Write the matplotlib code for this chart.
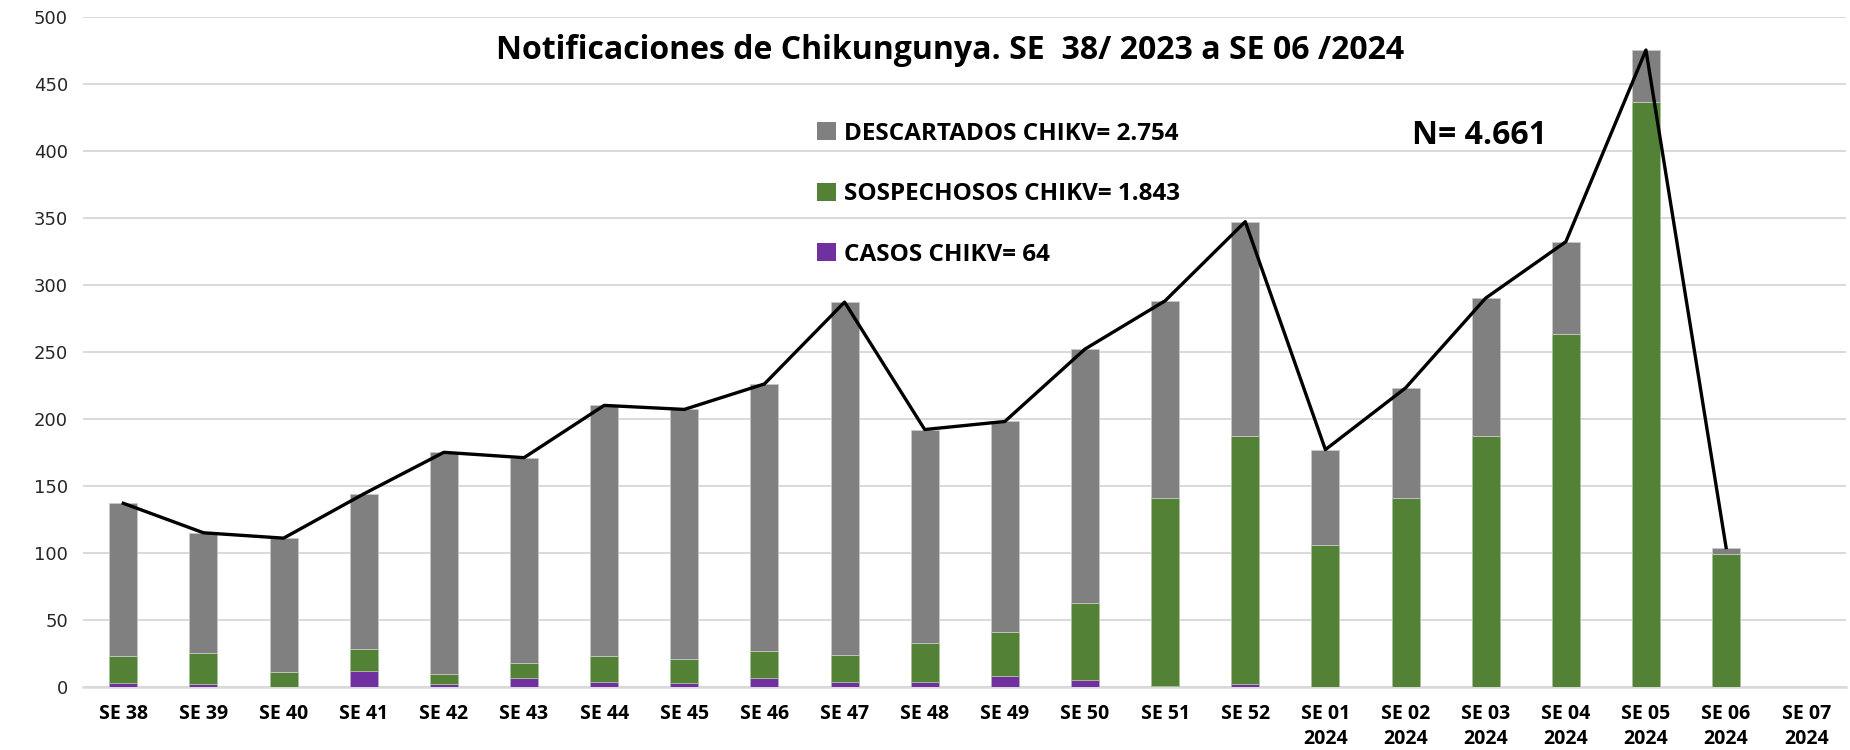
import matplotlib
matplotlib.use("Agg")
import matplotlib.pyplot as plt
from matplotlib import font_manager as fm
from matplotlib.patches import Patch
import numpy as np

categories = ["SE 38", "SE 39", "SE 40", "SE 41", "SE 42", "SE 43", "SE 44", "SE 45",
              "SE 46", "SE 47", "SE 48", "SE 49", "SE 50", "SE 51", "SE 52",
              "SE 01\n2024", "SE 02\n2024", "SE 03\n2024", "SE 04\n2024",
              "SE 05\n2024", "SE 06\n2024", "SE 07\n2024"]
casos = [3, 2, 0, 12, 2, 7, 4, 3, 7, 4, 4, 8, 5, 1, 2, 0, 0, 0, 0, 0, 0, 0]
sospechosos = [20, 23, 11, 16, 8, 11, 19, 18, 20, 20, 29, 33, 58, 140, 185,
               106, 141, 187, 263, 436, 99, 0]
descartados = [114, 90, 100, 116, 165, 153, 187, 186, 199, 263, 159, 157, 189, 147, 160,
               71, 82, 103, 69, 39, 5, 0]
total_line = [137, 115, 111, 144, 175, 171, 210, 207, 226, 287, 192, 198, 252, 288, 347,
              177, 223, 290, 332, 475, 104]

legend_labels = ["DESCARTADOS CHIKV= 2.754", "SOSPECHOSOS CHIKV= 1.843", "CASOS CHIKV= 64"]
title = "Notificaciones de Chikungunya. SE  38/ 2023 a SE 06 /2024"
n_label = "N= 4.661"

names = {f.name for f in fm.fontManager.ttflist}
narrow = "Liberation Sans Narrow" if "Liberation Sans Narrow" in names else "Open Sans"

c_gray = "#808080"
c_green = "#538135"
c_purple = "#7030A0"

fig = plt.figure(figsize=(18.5, 7.5), dpi=100)
ax = fig.add_axes([0.045, 0.084, 0.953, 0.894])

x = np.arange(len(categories))
w = 0.35
ax.bar(x, casos, w, color=c_purple, edgecolor="#b9a6cf", linewidth=0.6, zorder=3)
ax.bar(x, sospechosos, w, bottom=casos, color=c_green, edgecolor="#a9c19a", linewidth=0.6, zorder=3)
bottom2 = np.array(casos) + np.array(sospechosos)
ax.bar(x, descartados, w, bottom=bottom2, color=c_gray, edgecolor="#c8c8c8", linewidth=0.6, zorder=3)
ax.plot(np.arange(len(total_line)), total_line, color="black", lw=2.4, zorder=4)

ax.set_xlim(-0.5, len(categories) - 0.5)
ax.set_ylim(0, 500)
ax.set_yticks(np.arange(0, 501, 50))
ax.yaxis.grid(True, color="#d9d9d9", lw=1.4, zorder=0)
ax.set_axisbelow(True)
for s in ["top", "right", "left"]:
    ax.spines[s].set_visible(False)
ax.spines["bottom"].set_color("#d9d9d9")
ax.spines["bottom"].set_linewidth(1.8)
ax.tick_params(axis="both", length=0)
ax.tick_params(axis="y", labelsize=13, colors="#262626", pad=11)
ax.set_xticks(x)
ax.set_xticklabels(categories, fontfamily=narrow, fontweight="bold", fontsize=14,
                   linespacing=1.35)
ax.tick_params(axis="x", pad=12)

fig.text(0.5135, 0.933, title, ha="center", va="center", fontsize=23,
         fontweight="bold", fontfamily=narrow)
fig.text(0.7635, 0.82, n_label, ha="left", va="center", fontsize=23,
         fontweight="bold", fontfamily=narrow)

handles = [Patch(facecolor=c_gray), Patch(facecolor=c_green), Patch(facecolor=c_purple)]
fig.legend(handles, legend_labels, loc="upper left", bbox_to_anchor=(0.43, 0.867),
           frameon=False, handlelength=0.75, handleheight=0.75, handletextpad=0.35,
           labelspacing=1.5, prop={"family": narrow, "weight": "bold", "size": 17.5})

fig.savefig("out.png", dpi=100)
